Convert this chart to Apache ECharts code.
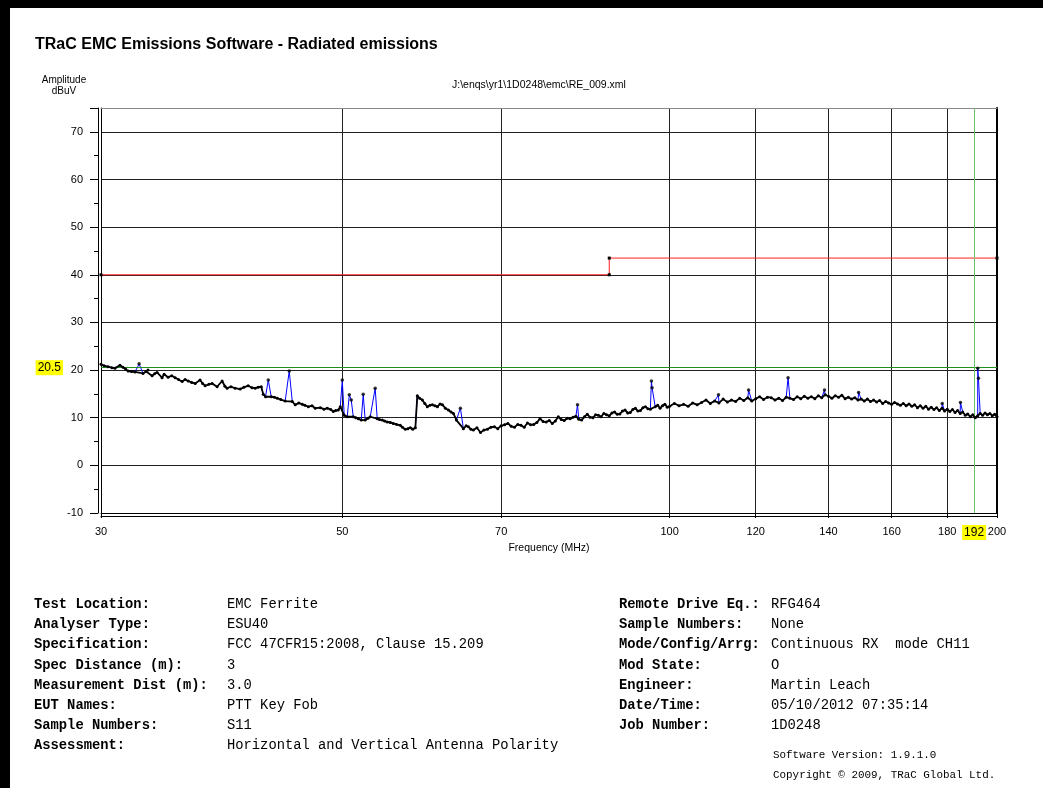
<!DOCTYPE html>
<html>
<head>
<meta charset="utf-8">
<script src="https://cdn.jsdelivr.net/npm/echarts@6/dist/echarts.min.js"></script>
<style>
html,body{margin:0;padding:0;background:#000;width:1043px;height:788px;overflow:hidden;}
#page{position:absolute;left:10px;top:8px;width:1033px;height:780px;background:#fff;}
#chart{position:absolute;left:0;top:0;width:1043px;height:788px;}
.t{position:absolute;white-space:pre;color:#000;}
.title{font-family:'Liberation Sans',Arial,sans-serif;font-weight:bold;font-size:16px;left:35px;top:35px;}
.small{font-family:'Liberation Sans',Arial,sans-serif;font-size:10px;}
.mono{font-family:'Liberation Mono','Courier New',monospace;font-size:13.8px;line-height:16px;}
.b{font-weight:bold;}
.mono2{font-family:'Liberation Mono','Courier New',monospace;font-size:10.9px;}
</style>
</head>
<body>
<div id="page"></div>
<div id="chart"></div>
<div class="t title">TRaC EMC Emissions Software - Radiated emissions</div>
<div class="t small" style="left:40px;top:74px;width:48px;text-align:center;line-height:11px;">Amplitude<br>dBuV</div>
<div class="t small" style="left:452px;top:78px;font-size:10.5px;">J:\enqs\yr1\1D0248\emc\RE_009.xml</div>
<div id="info"></div>
<script>
// ---------- data ----------
const xTickLabels = [30, 50, 70, 100, 120, 140, 160, 180, 200];
const markerFreq = 192;
const markerLevel = 20.5;

const limitFreq  = [30, 88, 88, 200];
const limitLevel = [40, 40, 43.5, 43.5];

const baseFreq = [30.0,30.2,30.45,30.7,30.9,31.23,31.43,31.6,31.77,32.0,32.24,32.79,33.0,33.14,33.43,33.6,33.78,34.14,34.29,34.58,34.85,35.1,35.35,35.62,35.85,36.08,36.35,36.62,37.0,37.2,37.4,37.7,37.96,38.36,38.77,39.0,39.18,39.5,39.85,40.28,40.6,40.97,41.3,41.58,41.85,42.12,42.3,42.5,43.02,43.3,43.57,43.9,44.31,44.98,45.26,45.6,45.94,46.2,46.53,46.9,47.22,47.73,48.1,48.44,48.8,49.06,49.3,49.58,49.79,50.21,50.53,51.18,51.45,51.72,52.05,52.49,52.8,53.05,53.84,54.1,54.42,54.7,55.0,55.35,55.7,56.1,56.53,56.8,57.14,57.45,57.75,58.05,58.37,58.61,58.9,59.24,59.55,59.87,60.2,60.51,60.85,61.16,61.5,61.81,62.2,62.6,62.95,63.27,63.67,64.62,65.0,65.31,65.65,
66,66.5,67,67.5,68,68.5,69,69.5,70,70.5,71,71.5,72,72.5,73,73.5,74,74.5,75,75.5,76,76.5,77,77.5,78,78.5,79,79.5,80,80.5,81,81.5,82,82.5,83,83.5,84,84.5,85,85.5,86,86.5,87,87.5,88,88.5,89,89.5,90,90.5,91,91.5,92,92.5,93,93.5,94,94.5,95,95.5,96,97,97.5,98,98.5,99,99.5,100,101,102,103,104,105,106,107,108,109,110,111,112,113,114,115,116,117,118,119,120,121,122,123,124,125,126,127,128,129,130,131,132,133,134,135,136,137,138,139,140,141,142,143,144,145,146,147,148,149,150,151,152,153,154,155,156,157,158,159,160,161,162,163,164,165,166,167,168,169,170,171,172,173,174,175,176,177,178,179,180,181,182,183,184,185,186,187,188,189,190,191,192,193,194,195,196,197,198,199,200];
const baseLevel = [21.2,20.9,20.7,20.5,20.4,21.0,20.6,20.2,19.8,19.7,19.6,19.3,19.7,20.0,18.8,19.2,19.5,18.4,19.1,18.5,18.8,18.4,18.0,17.6,18.0,17.7,17.4,17.2,17.9,17.2,16.7,17.0,17.2,16.5,17.7,16.6,16.2,16.5,16.2,16.0,16.4,16.7,16.3,16.2,16.4,16.5,14.9,14.4,14.4,14.3,14.1,13.8,13.5,13.4,12.7,13.1,12.8,12.6,12.3,12.5,12.0,12.1,11.8,12.0,11.7,11.3,11.5,11.6,12.3,10.5,10.2,10.2,10.0,9.8,9.5,9.5,9.9,10.2,9.8,9.6,9.5,9.3,9.1,9.0,8.8,8.6,8.4,8.0,7.6,7.7,7.9,7.6,7.9,14.6,14.1,13.7,13.0,12.3,12.6,12.7,12.5,12.3,12.9,12.7,12.0,11.6,11.2,10.9,9.5,7.7,8.3,8.1,7.6,
7.4,7.9,6.9,7.4,7.6,8.0,8.1,7.7,8.3,8.5,8.8,8.2,8.0,8.6,8.4,8.0,8.9,8.5,8.6,9.0,9.8,9.2,9.1,9.4,8.8,9.3,10.2,9.6,9.4,9.9,9.8,10.1,10.3,9.7,9.5,10.2,10.7,10.1,10.0,10.6,10.5,10.2,10.9,10.6,10.4,11.0,11.2,10.7,10.8,11.4,11.6,11.0,11.1,11.7,12.0,11.4,11.5,12.1,12.3,11.9,11.8,12.3,12.6,12.0,12.5,12.8,12.2,12.4,13.0,12.5,12.8,12.4,13.1,12.7,13.2,13.7,13.0,13.5,13.1,13.9,13.3,13.7,13.4,14.1,13.6,14.2,13.5,14.0,14.4,13.8,14.3,14.2,13.7,14.1,13.6,14.3,14.1,13.8,14.4,14.0,14.5,14.1,14.4,14.0,14.6,14.2,14.8,14.5,14.1,14.6,14.3,14.7,14.0,14.3,13.9,14.2,13.7,13.9,13.5,13.9,13.4,13.7,13.3,13.6,13.0,13.4,13.1,12.8,13.2,12.9,12.6,13.0,12.5,12.9,12.4,12.7,12.1,12.5,12.0,12.4,11.8,12.2,11.7,12.1,11.5,12.0,11.4,11.8,11.3,11.7,11.1,11.5,10.9,11.2,10.5,10.8,10.2,10.6,10.0,10.4,10.9,10.5,11.0,10.6,10.9,10.4,10.7,10.2];

const spikeFreq  = [32.52,42.75,44.69,50.0,50.75,50.96,52.27,53.61,64.21,82.28,96.22,96.35,110.9,118.2,128.5,138.8,149.2,178.1,185.1,192.0,192.3];
const spikeLevel = [21.3,17.9,19.8,17.9,14.8,13.7,14.9,16.2,12.0,12.7,17.7,16.3,14.8,15.8,18.4,15.8,15.3,13.0,13.2,20.4,18.3];

const infoLeft = [
  ['Test Location:', 'EMC Ferrite'],
  ['Analyser Type:', 'ESU40'],
  ['Specification:', 'FCC 47CFR15:2008, Clause 15.209'],
  ['Spec Distance (m):', '3'],
  ['Measurement Dist (m):', '3.0'],
  ['EUT Names:', 'PTT Key Fob'],
  ['Sample Numbers:', 'S11'],
  ['Assessment:', 'Horizontal and Vertical Antenna Polarity']
];
const infoRight = [
  ['Remote Drive Eq.:', 'RFG464'],
  ['Sample Numbers:', 'None'],
  ['Mode/Config/Arrg:', 'Continuous RX  mode CH11'],
  ['Mod State:', 'O'],
  ['Engineer:', 'Martin Leach'],
  ['Date/Time:', '05/10/2012 07:35:14'],
  ['Job Number:', '1D0248']
];
const footer = ['Software Version: 1.9.1.0', 'Copyright \u00A9 2009, TRaC Global Ltd.'];

// ---------- info block ----------
(function(){
  const info = document.getElementById('info');
  let h = '';
  infoLeft.forEach((r,i)=>{
    const y = 597 + i*20.2;
    h += `<div class="t mono b" style="left:34px;top:${y}px">${r[0]}</div>`;
    h += `<div class="t mono" style="left:227px;top:${y}px">${r[1]}</div>`;
  });
  infoRight.forEach((r,i)=>{
    const y = 597 + i*20.2;
    h += `<div class="t mono b" style="left:619px;top:${y}px">${r[0]}</div>`;
    h += `<div class="t mono" style="left:771px;top:${y}px">${r[1]}</div>`;
  });
  h += `<div class="t mono2" style="left:773px;top:749px">${footer[0]}</div>`;
  h += `<div class="t mono2" style="left:773px;top:769px">${footer[1]}</div>`;
  info.innerHTML = h;
})();

// ---------- chart ----------
const lx = v => Math.log10(v);
const xMin = lx(30), xMax = lx(200);
const xTickVals = xTickLabels.map(lx);

const allPts = baseFreq.map((f,i)=>[f, baseLevel[i]])
  .concat(spikeFreq.map((f,i)=>[f, spikeLevel[i]]))
  .sort((a,b)=>a[0]-b[0]);

const chart = echarts.init(document.getElementById('chart'), null, {renderer:'canvas'});
const font = 'Liberation Sans';
const gridLine = {color:'#222', width:1};
const hl = {backgroundColor:'#ffff00', color:'#000', fontFamily:font, fontSize:12, padding:[2,2,1,2]};

chart.setOption({
  animation:false,
  backgroundColor:'transparent',
  grid:{left:101, top:108, right:46, bottom:275, containLabel:false},
  xAxis:[
    {type:'value', position:'bottom', min:xMin, max:xMax,
     axisLine:{show:true, onZero:false, lineStyle:{color:'#000', width:1}},
     axisTick:{show:true, customValues:xTickVals, length:5, lineStyle:{color:'#000'}},
     axisLabel:{show:true, customValues:xTickVals, margin:13, color:'#000', fontFamily:font, fontSize:11,
       formatter:v=>String(Math.round(Math.pow(10,v)))},
     splitLine:{show:true, lineStyle:gridLine},
     name:'Frequency (MHz)', nameLocation:'middle', nameGap:30,
     nameTextStyle:{color:'#000', fontFamily:font, fontSize:10.5}},
    {type:'value', position:'bottom', offset:3, min:xMin, max:xMax,
     axisLine:{show:true, onZero:false, lineStyle:{color:'#000', width:1}},
     axisTick:{show:false}, axisLabel:{show:false}, splitLine:{show:false}},
    {type:'value', position:'top', min:xMin, max:xMax,
     axisLine:{show:true, onZero:false, lineStyle:{color:'#888', width:1}},
     axisTick:{show:false}, axisLabel:{show:false}, splitLine:{show:false}}
  ],
  yAxis:[
    {type:'value', position:'left', offset:3, min:-10, max:75, interval:10,
     axisLine:{show:true, onZero:false, lineStyle:{color:'#000', width:1}},
     axisTick:{show:true, length:8, lineStyle:{color:'#000'}},
     axisLabel:{show:true, margin:15, color:'#000', fontFamily:font, fontSize:11,
       formatter:v=>(v>70?'':String(v))},
     splitLine:{show:true, lineStyle:gridLine}},
    {type:'value', position:'left', offset:3, min:-10, max:75,
     axisLine:{show:false},
     axisTick:{show:true, customValues:[-5,5,15,25,35,45,55,65], length:4, lineStyle:{color:'#000'}},
     axisLabel:{show:false}, splitLine:{show:false}},
    {type:'value', position:'left', offset:0, min:-10, max:75,
     axisLine:{show:true, onZero:false, lineStyle:{color:'#000', width:1}},
     axisTick:{show:false}, axisLabel:{show:false}, splitLine:{show:false}},
    {type:'value', position:'right', offset:0, min:-10, max:75,
     axisLine:{show:true, onZero:false, lineStyle:{color:'#000', width:2}},
     axisTick:{show:false}, axisLabel:{show:false}, splitLine:{show:false}}
  ],
  series:[
    {name:'limit', type:'line', xAxisIndex:0, yAxisIndex:0, z:3,
     data:limitFreq.map((f,i)=>[lx(f), limitLevel[i]]),
     lineStyle:{color:'#ff2020', width:1}, symbol:'rect', symbolSize:3,
     itemStyle:{color:'#000'}, showSymbol:true,
     markLine:{silent:true, symbol:'none', animation:false,
       data:[
         {yAxis:markerLevel, lineStyle:{color:'#1f8f1f', width:1, type:'solid'},
          label:Object.assign({show:true, position:'start', distance:38, formatter:String(markerLevel)}, hl)},
         {xAxis:lx(markerFreq), lineStyle:{color:'#6cc06c', width:1, type:'solid'},
          label:Object.assign({show:true, position:'start', distance:12, formatter:String(markerFreq)}, hl)}
       ]}},
    {name:'trace', type:'line', xAxisIndex:0, yAxisIndex:0, z:4,
     data:allPts.map(p=>[lx(p[0]), p[1]]),
     lineStyle:{color:'#0000ff', width:1}, showSymbol:false, symbol:'none'},
    {name:'peak', type:'line', xAxisIndex:0, yAxisIndex:0, z:5,
     data:baseFreq.map((f,i)=>[lx(f), baseLevel[i]]),
     lineStyle:{color:'#000', width:1.8}, symbol:'circle', symbolSize:3, showSymbol:true, showAllSymbol:true,
     itemStyle:{color:'#000'}},
    {name:'spikes', type:'scatter', xAxisIndex:0, yAxisIndex:0, z:6,
     data:spikeFreq.map((f,i)=>[lx(f), spikeLevel[i]]),
     symbol:'circle', symbolSize:3.5, itemStyle:{color:'#000'}}
  ]
});
</script>
</body>
</html>
